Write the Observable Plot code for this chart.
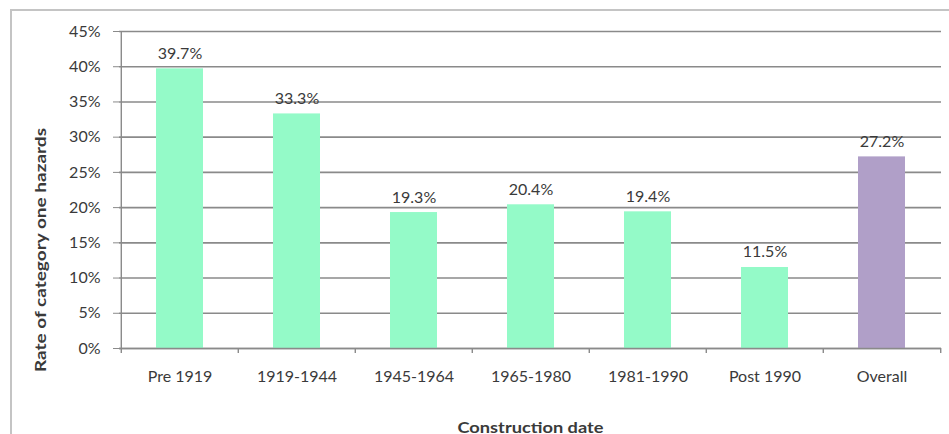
<!DOCTYPE html>
<html>
<head>
<meta charset="utf-8">
<script src="https://cdn.jsdelivr.net/npm/d3@7"></script>
<script src="https://cdn.jsdelivr.net/npm/@observablehq/plot@0.6"></script>
<style>
  html, body { margin: 0; padding: 0; background: #fff; }
  #wrap { position: relative; width: 949px; height: 434px; overflow: hidden; }
  #frame { position: absolute; left: 10px; top: 9px; width: 960px; height: 440px;
           border-left: 2px solid #c4c4c4; border-top: 2px solid #c4c4c4; box-sizing: border-box; }
  #chart { position: absolute; left: 0; top: 0; }
</style>
</head>
<body>
<div id="wrap"><div id="frame"></div><div id="chart"></div></div>
<script>
const categories = ["Pre 1919", "1919-1944", "1945-1964", "1965-1980", "1981-1990", "Post 1990", "Overall"];
const rates = [0.397, 0.333, 0.193, 0.204, 0.194, 0.115, 0.272];
const barColors = ["#94fac8", "#94fac8", "#94fac8", "#94fac8", "#94fac8", "#94fac8", "#b09fc8"];
const yTicks = [0, 0.05, 0.10, 0.15, 0.20, 0.25, 0.30, 0.35, 0.40, 0.45];
const xTitle = "Construction date";
const yTitle = "Rate of category one hazards";

const data = categories.map((c, i) => ({category: c, rate: rates[i], color: barColors[i]}));

const W = 949, H = 434, ML = 119, MR = 8, MT = 31, MB = 86;
const step = (W - ML - MR) / categories.length;
const font = "Lato, 'Open Sans', sans-serif";
const grid = "#8a8a8a";
const textCol = "#3a3a3a";

const chart = Plot.plot({
  width: W, height: H,
  marginLeft: ML, marginRight: MR, marginTop: MT, marginBottom: MB,
  style: {fontFamily: font, fontSize: "16px", color: textCol, background: "transparent"},
  x: {domain: categories, padding: 0.6, paddingOuter: 0.3, label: null},
  y: {domain: [0, 0.45], label: null},
  marks: [
    Plot.ruleY(yTicks, {stroke: grid, strokeWidth: 1.6}),
    Plot.barY(data, {x: "category", y: "rate", fill: "color"}),
    Plot.ruleX(categories, {x: d => d, y1: 0, y2: 0, dx: -step / 2, insetBottom: -5, stroke: grid, strokeWidth: 1.4}),
    Plot.ruleX(categories.slice(-1), {x: d => d, y1: 0, y2: 0, dx: step / 2, insetBottom: -5, stroke: grid, strokeWidth: 1.4}),
    Plot.ruleX(categories.slice(0, 1), {x: d => d, y1: 0, y2: 0.45, dx: -step / 2, stroke: grid, strokeWidth: 1.4}),
    Plot.ruleY([0], {stroke: grid, strokeWidth: 1.6}),
    Plot.axisY(yTicks, {tickFormat: d3.format(".0%"), tickSize: 6, tickPadding: 13, stroke: grid, fill: textCol, fontSize: 16, label: null}),
    Plot.axisX({tickSize: 0, tickPadding: 22, fill: textCol, fontSize: 16, label: null}),
    Plot.text(data, {x: "category", y: "rate", text: d => d3.format(".1%")(d.rate), lineAnchor: "bottom", dy: -10, fill: textCol, fontSize: 16}),
    Plot.text([xTitle], {frameAnchor: "bottom", dy: 84, textAnchor: "middle", text: d => d, fontWeight: "bold", fill: textCol, fontSize: 16, className: "xtitle"}),
    Plot.text([yTitle], {frameAnchor: "left", dx: -79, dy: 60, textAnchor: "middle", rotate: -90, text: d => d, fontWeight: "bold", fill: textCol, fontSize: 16, className: "ytitle"})
  ]
});
document.getElementById("chart").append(chart);
// stretch the titles to the reference's text lengths
chart.querySelectorAll(".ytitle text").forEach(t => { t.setAttribute("textLength", 244); t.setAttribute("lengthAdjust", "spacingAndGlyphs"); });
chart.querySelectorAll(".xtitle text").forEach(t => { t.setAttribute("textLength", 146); t.setAttribute("lengthAdjust", "spacingAndGlyphs"); });
</script>
</body>
</html>
